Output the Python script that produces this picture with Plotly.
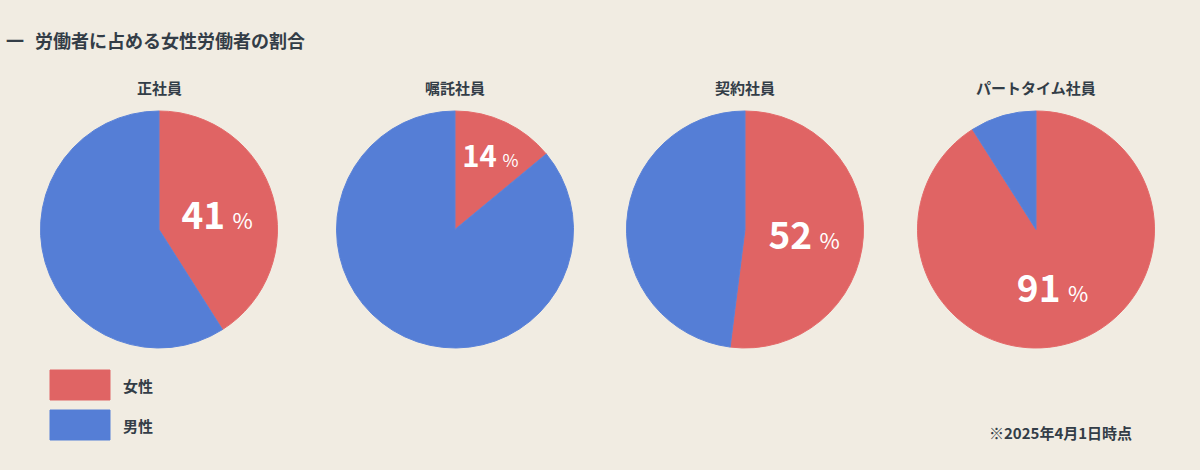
import plotly.graph_objects as go

# -----------------------
# data
# -----------------------
groups = ["正社員", "嘱託社員", "契約社員", "パートタイム社員"]
female_pct = [41, 14, 52, 91]
male_pct = [100 - v for v in female_pct]
series_names = ["女性", "男性"]
colors = ["#e06464", "#557ed6"]

W, H = 1200, 470
bg = "#f1ece2"
ink = "#333d47"
font_jp = "Noto Sans CJK JP"

centers = [159, 455, 745, 1036]  # pixel centers of the pies
radius = 119
top_px, bottom_px = 111, 348


def px_x(v):
    return v / W


def px_y(v):
    return 1 - v / H


def note(x, y, text, size, anchor="left"):
    fig.add_annotation(x=px_x(x), y=px_y(y), xref="paper", yref="paper",
                       xanchor=anchor, yanchor="middle",
                       text=f"<b>{text}</b>", showarrow=False,
                       font=dict(family=font_jp, size=size, color=ink))


fig = go.Figure()

for i, g in enumerate(groups):
    cx = centers[i]
    fig.add_trace(go.Pie(
        labels=series_names,
        values=[female_pct[i], male_pct[i]],
        marker=dict(colors=colors, line=dict(width=1, color=["#e46a6a", "#5a82d8"])),
        sort=False,
        direction="clockwise",
        rotation=0,
        domain=dict(x=[px_x(cx - radius), px_x(cx + radius)],
                    y=[px_y(bottom_px), px_y(top_px)]),
        texttemplate=["<b>%{value}</b>\u2009<span style='font-size:22px'>%</span>", ""],
        textposition="inside",
        insidetextorientation="horizontal",
        textfont=dict(family=font_jp, size=37, color="white"),
        hoverinfo="label+percent",
        showlegend=False,
        name=g,
    ))
    note(cx, 87, g, 15, anchor="center")

# title
note(4, 40, "一", 18)
note(33, 40, "労働者に占める女性労働者の割合", 18)

# custom legend
legend_rows = [385, 425]
for name, col, yc in zip(series_names, colors, legend_rows):
    fig.add_shape(type="rect", xref="paper", yref="paper",
                  x0=px_x(50), x1=px_x(110), y0=px_y(yc + 15), y1=px_y(yc - 15),
                  fillcolor=col, line=dict(color=col, width=1))
    note(121, yc, name, 15)

# footnote
note(1134, 432, "※2025年4月1日時点", 15, anchor="right")

fig.update_layout(
    width=W, height=H,
    margin=dict(l=0, r=0, t=0, b=0),
    paper_bgcolor=bg, plot_bgcolor=bg,
    showlegend=False,
)

fig.write_html("out.html", config={"displayModeBar": False},
               post_script="document.body.style.margin='0';")
